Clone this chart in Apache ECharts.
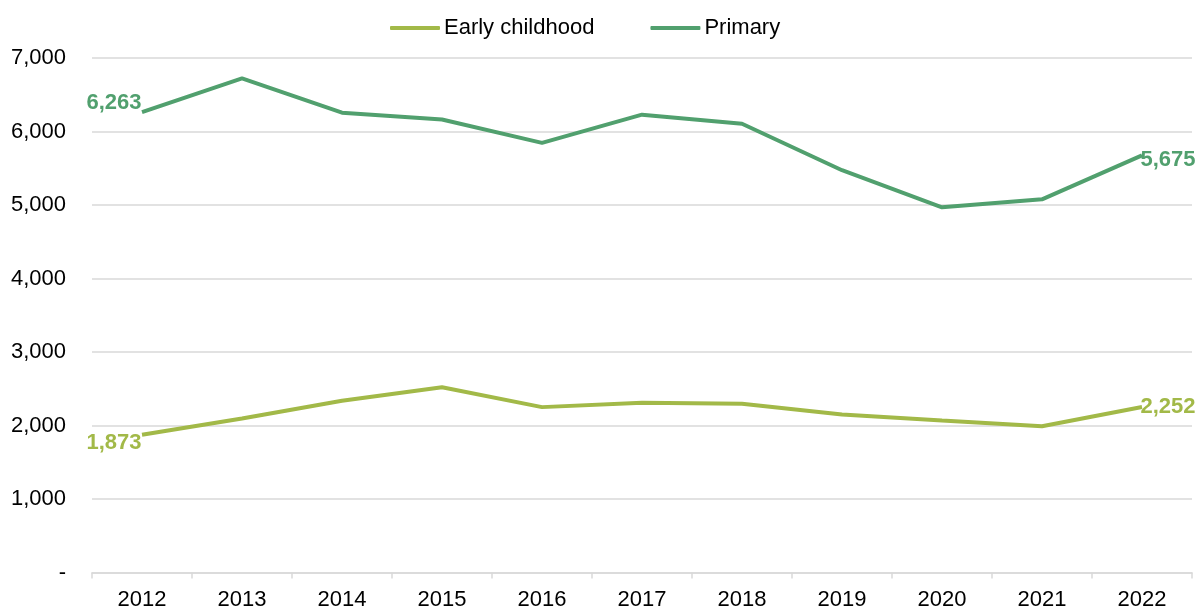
<!DOCTYPE html>
<html>
<head>
<meta charset="utf-8">
<script src="https://cdn.jsdelivr.net/npm/echarts@6/dist/echarts.min.js"></script>
<style>
  html, body { margin: 0; padding: 0; background: #ffffff; }
  #chart { width: 1195px; height: 608px; }
</style>
</head>
<body>
<div id="chart"></div>
<script>
// Enrolment counts by year
const years = ['2012', '2013', '2014', '2015', '2016', '2017', '2018', '2019', '2020', '2021', '2022'];
const earlyChildhood = [1873, 2095, 2336, 2520, 2250, 2309, 2295, 2150, 2068, 1990, 2252];
const primary = [6263, 6722, 6256, 6164, 5845, 6229, 6105, 5473, 4969, 5077, 5675];
const yTicks = [0, 1000, 2000, 3000, 4000, 5000, 6000, 7000];

const COLOR_EARLY = '#a2b948';
const COLOR_PRIMARY = '#51a06e';
const FONT = '"Liberation Sans", Arial, sans-serif';

function fmt(v) {
  return v === 0 ? '-' : v.toLocaleString('en-US');
}

// Only the first and last points carry a value label
function endLabels(values, color, firstOffset, lastOffset) {
  return values.map((v, i) => {
    const item = { value: v };
    if (i === 0 || i === values.length - 1) {
      item.label = {
        show: true,
        position: i === 0 ? 'left' : 'right',
        distance: i === 0 ? 0 : -2,
        offset: i === 0 ? firstOffset : lastOffset,
        formatter: (p) => fmt(p.value),
        color: color,
        fontFamily: FONT,
        fontWeight: 'bold',
        fontSize: 22
      };
    }
    return item;
  });
}

const chart = echarts.init(document.getElementById('chart'), null, { renderer: 'canvas' });
chart.setOption({
  animation: false,
  color: [COLOR_EARLY, COLOR_PRIMARY],
  legend: {
    top: 12,
    left: 385,
    itemWidth: 50,
    itemHeight: 4,
    itemGap: 56,
    icon: 'roundRect',
    textStyle: { fontFamily: FONT, fontSize: 22, color: '#000', padding: [0, 0, 0, -1] },
    data: [
      { name: 'Early childhood', itemStyle: { color: COLOR_EARLY, opacity: 1 } },
      { name: 'Primary', itemStyle: { color: COLOR_PRIMARY, opacity: 1 } }
    ]
  },
  grid: { left: 92, right: 3, top: 58, bottom: 35.5, containLabel: false, outerBoundsMode: 'none' },
  xAxis: {
    type: 'category',
    data: years,
    boundaryGap: true,
    axisLine: { show: true, lineStyle: { color: '#d9d9d9', width: 1.5 } },
    axisTick: { show: true, alignWithLabel: false, length: 6, lineStyle: { color: '#d9d9d9', width: 1.5 } },
    axisLabel: { fontFamily: FONT, fontSize: 22, color: '#000', margin: 16 }
  },
  yAxis: {
    type: 'value',
    min: yTicks[0],
    max: yTicks[yTicks.length - 1],
    interval: 1000,
    axisLine: { show: false },
    axisTick: { show: false },
    splitLine: { lineStyle: { color: '#d9d9d9', width: 1.5 } },
    axisLabel: {
      fontFamily: FONT, fontSize: 22, color: '#000', margin: 26,
      formatter: (v) => fmt(v)
    }
  },
  series: [
    {
      name: 'Early childhood',
      type: 'line',
      data: endLabels(earlyChildhood, COLOR_EARLY, [0, 8], [0, 0]),
      symbol: 'circle',
      symbolSize: 1,
      showSymbol: true,
      lineStyle: { width: 4, color: COLOR_EARLY },
      itemStyle: { color: 'rgba(0,0,0,0)', borderWidth: 0 },
      z: 2
    },
    {
      name: 'Primary',
      type: 'line',
      data: endLabels(primary, COLOR_PRIMARY, [0, -9], [0, 5]),
      symbol: 'circle',
      symbolSize: 1,
      showSymbol: true,
      lineStyle: { width: 4, color: COLOR_PRIMARY },
      itemStyle: { color: 'rgba(0,0,0,0)', borderWidth: 0 },
      z: 3
    }
  ]
});
</script>
</body>
</html>
